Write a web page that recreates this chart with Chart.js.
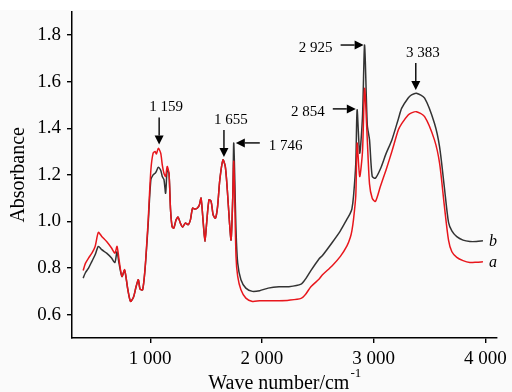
<!DOCTYPE html>
<html>
<head>
<meta charset="utf-8">
<script src="https://cdn.jsdelivr.net/npm/chart.js@4.4.1/dist/chart.umd.min.js"></script>
<style>
    html, body { margin: 0; padding: 0; background: #fafafa; }
    #wrap { width: 512px; height: 392px; position: relative; }
</style>
</head>
<body>
<div id="wrap"><canvas id="irChart" width="512" height="392"></canvas></div>
<script>
// IR spectra, wave number (cm-1) vs absorbance
const waveNumbers = [400, 420, 448, 478, 507, 536, 566, 610, 654, 684, 703, 721, 747, 771, 800, 824, 850, 874, 894, 909,
    932, 953, 971, 982, 1006, 1026, 1044, 1055, 1073, 1094, 1108, 1123, 1138, 1152, 1168, 1182, 1196, 1211, 1232, 1249,
    1270, 1290, 1314, 1340, 1360, 1379, 1400, 1420, 1440, 1455, 1475, 1490, 1505, 1526, 1545, 1563, 1584, 1603, 1623, 1651,
    1672, 1690, 1710, 1724, 1739, 1748, 1768, 1783, 1812, 1856, 1915, 1980, 2056, 2153, 2241, 2350, 2393, 2438, 2512, 2540,
    2629, 2702, 2761, 2790, 2805, 2820, 2840, 2852, 2875, 2900, 2919, 2943, 2963, 2987, 3016, 3060, 3110, 3163, 3221, 3251,
    3309, 3339, 3383, 3456, 3544, 3590, 3632, 3670, 3700, 3744, 3800, 3861, 3920, 3978];

const absorbanceA = [0.79, 0.82, 0.843, 0.864, 0.893, 0.953, 0.936, 0.914, 0.886, 0.864, 0.893, 0.836, 0.764, 0.793, 0.707, 0.657, 0.675, 0.721, 0.75, 0.71,
    0.707, 0.793, 0.921, 1.007, 1.221, 1.293, 1.3, 1.29, 1.314, 1.293, 1.243, 1.207, 1.193, 1.236, 1.207, 1.05, 0.978, 0.971, 1.007, 1.019,
    0.993, 0.976, 0.993, 0.986, 1.007, 1.057, 1.053, 1.057, 1.071, 1.1, 0.993, 0.914, 0.993, 1.093, 1.086, 1.029, 1.014, 1.064, 1.179, 1.264,
    1.236, 1.136, 0.993, 0.921, 1.107, 1.257, 0.85, 0.764, 0.707, 0.671, 0.657, 0.66, 0.66, 0.66, 0.662, 0.67, 0.689, 0.72, 0.753, 0.77,
    0.81, 0.85, 0.895, 0.93, 0.96, 1.01, 1.11, 1.336, 1.193, 1.3, 1.571, 1.35, 1.16, 1.1, 1.086, 1.15, 1.22, 1.3, 1.393, 1.42,
    1.457, 1.466, 1.471, 1.45, 1.35, 1.25, 1.07, 0.92, 0.87, 0.846, 0.832, 0.824, 0.825, 0.827];

const absorbanceB = [0.757, 0.78, 0.8, 0.829, 0.857, 0.893, 0.879, 0.864, 0.843, 0.824, 0.87, 0.82, 0.764, 0.79, 0.707, 0.657, 0.675, 0.721, 0.75, 0.71,
    0.707, 0.79, 0.91, 0.99, 1.179, 1.2, 1.207, 1.215, 1.233, 1.22, 1.193, 1.18, 1.121, 1.22, 1.207, 1.05, 0.978, 0.971, 1.007, 1.019,
    0.993, 0.976, 0.993, 0.986, 1.007, 1.057, 1.053, 1.057, 1.071, 1.1, 0.993, 0.914, 0.993, 1.093, 1.086, 1.029, 1.014, 1.064, 1.179, 1.264,
    1.236, 1.136, 0.993, 0.921, 1.107, 1.336, 0.964, 0.821, 0.75, 0.714, 0.7, 0.703, 0.714, 0.72, 0.72, 0.731, 0.755, 0.789, 0.84, 0.853,
    0.91, 0.96, 1.01, 1.035, 1.053, 1.11, 1.25, 1.479, 1.293, 1.45, 1.757, 1.414, 1.35, 1.193, 1.186, 1.225, 1.29, 1.35, 1.44, 1.486,
    1.53, 1.543, 1.55, 1.529, 1.421, 1.32, 1.15, 0.996, 0.96, 0.935, 0.92, 0.914, 0.914, 0.917];

const xTicks = [1000, 2000, 3000, 4000];
const yTicks = [0.6, 0.8, 1.0, 1.2, 1.4, 1.6, 1.8];

// peak annotations
const peakLabels = ['1 159', '1 655', '1 746', '2 854', '2 925', '3 383'];
const peakWave = [1080, 1660, 1766, 2840, 2910, 3377];
const peakAbs = [1.33, 1.277, 1.337, 1.483, 1.757, 1.564];
const peakDir = ['down', 'down', 'left', 'right', 'right', 'down'];

const SERIF = '"Liberation Serif", "Times New Roman", serif';

function toPoints(ys) {
    return waveNumbers.map((x, i) => ({ x: x, y: ys[i] }));
}

function drawArrow(ctx, x1, y1, x2, y2) {
    // line from (x1,y1) to tip (x2,y2)
    const ang = Math.atan2(y2 - y1, x2 - x1);
    const head = 9, half = 4.5;
    ctx.beginPath();
    ctx.moveTo(x1, y1);
    ctx.lineTo(x2 - Math.cos(ang) * head, y2 - Math.sin(ang) * head);
    ctx.stroke();
    ctx.beginPath();
    ctx.moveTo(x2, y2);
    ctx.lineTo(x2 - Math.cos(ang) * head - Math.sin(ang) * half, y2 - Math.sin(ang) * head + Math.cos(ang) * half);
    ctx.lineTo(x2 - Math.cos(ang) * head + Math.sin(ang) * half, y2 - Math.sin(ang) * head - Math.cos(ang) * half);
    ctx.closePath();
    ctx.fill();
}

const decorPlugin = {
    id: 'decor',
    beforeDraw(chart) {
        const ctx = chart.ctx;
        ctx.save();
        ctx.fillStyle = '#fafafa';
        ctx.fillRect(0, 0, chart.width, chart.height);
        ctx.fillStyle = '#ffffff';
        ctx.fillRect(0, 0, chart.width, 10);
        ctx.restore();
    },
    afterDatasetsDraw(chart) {
        const ctx = chart.ctx;
        const xs = chart.scales.x, ys = chart.scales.y;
        ctx.save();
        ctx.fillStyle = '#000';
        ctx.strokeStyle = '#000';
        ctx.lineWidth = 1.4;
        ctx.font = '15px ' + SERIF;

        peakLabels.forEach((label, i) => {
            const px = xs.getPixelForValue(peakWave[i]);
            const py = ys.getPixelForValue(peakAbs[i]);
            if (peakDir[i] === 'down') {
                drawArrow(ctx, px, py - 27, px, py);
                ctx.textAlign = 'center';
                ctx.textBaseline = 'middle';
                ctx.fillText(label, px + 7, py - 37);
            } else if (peakDir[i] === 'right') {
                drawArrow(ctx, px - 23, py, px, py);
                ctx.textAlign = 'right';
                ctx.textBaseline = 'middle';
                ctx.fillText(label, px - 31, py + 3);
            } else {
                drawArrow(ctx, px + 24, py, px, py);
                ctx.textAlign = 'left';
                ctx.textBaseline = 'middle';
                ctx.fillText(label, px + 33, py + 3);
            }
        });

        // curve names at the right ends
        const last = waveNumbers.length - 1;
        const ex = xs.getPixelForValue(waveNumbers[last]) + 10;
        ctx.font = 'italic 16px ' + SERIF;
        ctx.textAlign = 'center';
        ctx.textBaseline = 'middle';
        ctx.fillText('b', ex, ys.getPixelForValue(absorbanceB[last]) + 1);
        ctx.fillText('a', ex, ys.getPixelForValue(absorbanceA[last]) + 1);

        // axis titles
        ctx.font = '20px ' + SERIF;
        const mainTxt = 'Wave number/cm';
        const supTxt = '-1';
        const w1 = ctx.measureText(mainTxt).width;
        ctx.font = '13px ' + SERIF;
        const w2 = ctx.measureText(supTxt).width;
        const cx = (xs.left + xs.right) / 2;
        const startX = cx - (w1 + w2) / 2;
        ctx.textAlign = 'left';
        ctx.textBaseline = 'alphabetic';
        ctx.font = '20px ' + SERIF;
        ctx.fillText(mainTxt, startX, 389);
        ctx.font = '13px ' + SERIF;
        ctx.fillText(supTxt, startX + w1 + 1, 377);

        ctx.translate(19, (ys.top + ys.bottom) / 2);
        ctx.rotate(-Math.PI / 2);
        ctx.font = '20px ' + SERIF;
        ctx.textAlign = 'center';
        ctx.textBaseline = 'middle';
        ctx.fillText('Absorbance', 0, 0);
        ctx.restore();
    }
};

const ctx = document.getElementById('irChart');
new Chart(ctx, {
    type: 'line',
    data: {
        datasets: [
            {
                label: 'a',
                data: toPoints(absorbanceA),
                borderColor: '#e8161c',
                borderWidth: 1.5,
                pointRadius: 0,
                tension: 0.25,
                fill: false
            },
            {
                label: 'b',
                data: toPoints(absorbanceB),
                borderColor: '#333333',
                borderWidth: 1.5,
                pointRadius: 0,
                tension: 0.25,
                fill: false
            }
        ]
    },
    options: {
        responsive: false,
        animation: false,
        devicePixelRatio: 1,
        layout: { padding: { left: 0, right: 9, top: 0, bottom: 0 } },
        plugins: {
            legend: { display: false },
            tooltip: { enabled: false }
        },
        scales: {
            x: {
                type: 'linear',
                min: 300,
                max: 4100,
                afterBuildTicks: scale => { scale.ticks = xTicks.map(v => ({ value: v })); },
                afterFit: scale => { scale.height = 54; },
                grid: { display: true, drawOnChartArea: false, drawTicks: true, tickLength: 5, color: '#000', lineWidth: 1.4 },
                border: { display: true, color: '#000', width: 1.5 },
                ticks: {
                    color: '#000',
                    padding: 5,
                    maxRotation: 0,
                    font: { family: SERIF, size: 19 },
                    callback: v => String(v).replace(/\B(?=(\d{3})+(?!\d))/g, ' ')
                }
            },
            y: {
                min: 0.5,
                max: 1.9,
                afterBuildTicks: scale => { scale.ticks = yTicks.map(v => ({ value: v })); },
                afterFit: scale => { scale.width = 72; },
                grid: { display: true, drawOnChartArea: false, drawTicks: true, tickLength: 5, color: '#000', lineWidth: 1.4 },
                border: { display: true, color: '#000', width: 1.5 },
                ticks: {
                    color: '#000',
                    padding: 6,
                    font: { family: SERIF, size: 19, lineHeight: 0.6 },
                    callback: v => v.toFixed(1)
                }
            }
        }
    },
    plugins: [decorPlugin]
});
</script>
</body>
</html>
